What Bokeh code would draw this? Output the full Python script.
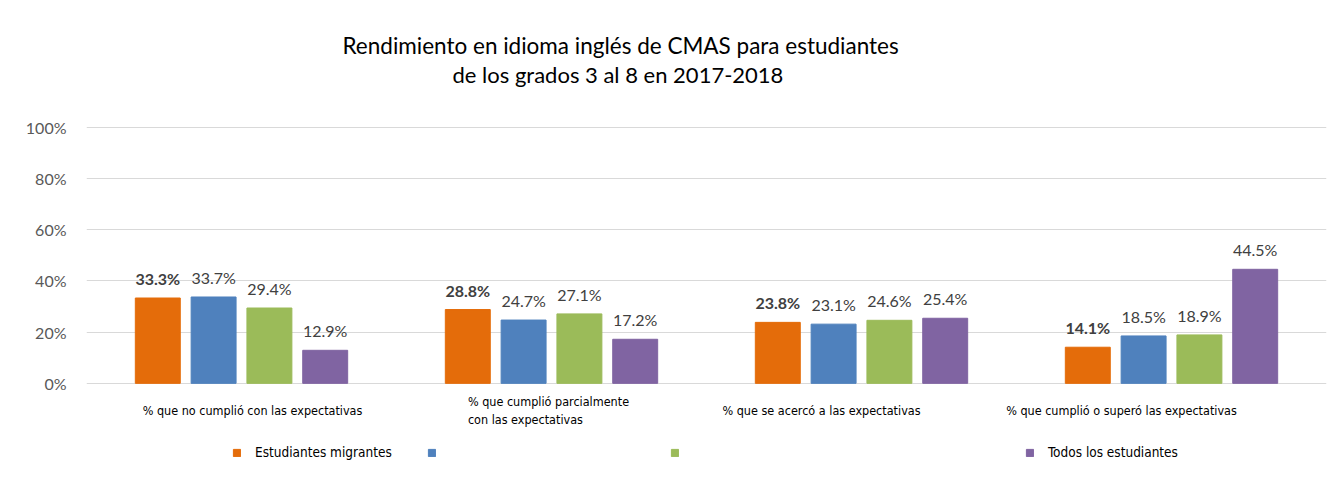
from bokeh.plotting import figure
from bokeh.models import ColumnDataSource, FactorRange, LabelSet, Legend, LegendItem, Range1d, Title
from bokeh.core.properties import value
from bokeh.transform import dodge
from bokeh.embed import file_html
from bokeh.resources import INLINE

categories = ["% que no cumplió con las expectativas",
              "% que cumplió parcialmente\ncon las expectativas",
              "% que se acercó a las expectativas",
              "% que cumplió o superó las expectativas"]
series_names = ["Estudiantes migrantes", "", "", "Todos los estudiantes"]
migrantes = [33.3, 28.8, 23.8, 14.1]
serie2 = [33.7, 24.7, 23.1, 18.5]
serie3 = [29.4, 27.1, 24.6, 18.9]
todos = [12.9, 17.2, 25.4, 44.5]
yticks = [0, 20, 40, 60, 80, 100]
title_lines = ["Rendimiento en idioma inglés de CMAS para estudiantes",
               "de los grados 3 al 8 en 2017-2018"]

# styles
colors = ["#E46C0A", "#4F81BD", "#9BBB59", "#8064A2"]
offsets = [-0.27, -0.09, 0.09, 0.27]
cat_shift = [11, -3, -40, -50]
narrow = "DejaVu Sans Condensed"
series = [migrantes, serie2, serie3, todos]

p = figure(x_range=FactorRange(*categories), y_range=Range1d(-34, 101),
           width=1330, height=470, output_backend="svg", toolbar_location=None,
           title=None,
           min_border_left=86, min_border_right=4, min_border_top=124, min_border_bottom=0)

spacer = Title(text=" ", standoff=34, text_font_size="1px")
t2 = Title(text=title_lines[1], align="left", offset=366, text_font="Lato",
           text_font_size="22px", text_font_style="normal", text_color="#000000", standoff=0)
t1 = Title(text=title_lines[0], align="left", offset=256, text_font="Lato",
           text_font_size="22.5px", text_font_style="normal", text_color="#000000", standoff=0)
p.add_layout(spacer, "above")
p.add_layout(t2, "above")
p.add_layout(t1, "above")

p.outline_line_color = None
p.xgrid.grid_line_color = None
p.ygrid.grid_line_color = "#d9d9d9"
p.ygrid.grid_line_width = 1
p.yaxis.ticker = yticks
p.yaxis.major_label_overrides = {v: f"{v}%" for v in yticks}
p.yaxis.axis_line_color = None
p.yaxis.major_tick_line_color = None
p.yaxis.minor_tick_line_color = None
p.yaxis.major_label_text_font = "Lato"
p.yaxis.major_label_text_font_size = "16px"
p.yaxis.major_label_text_color = "#595959"
p.yaxis.major_label_standoff = 14
p.xaxis.visible = False
p.x_range.range_padding = 0
p.x_range.group_padding = 0

data = {"cat": categories}
keys = ["s0", "s1", "s2", "s3"]
for k, vals in zip(keys, series):
    data[k] = vals
    data[k + "_lab"] = [f"{v:.1f}%" for v in vals]
src = ColumnDataSource(data)

renderers = []
for i, k in enumerate(keys):
    x = dodge("cat", offsets[i], range=p.x_range)
    r = p.vbar(x=x, top=k, width=0.145, source=src, fill_color=colors[i], line_color=colors[i])
    renderers.append(r)
    lab = LabelSet(x=x, y=k, text=k + "_lab", source=src, text_align="center",
                   text_baseline="bottom", y_offset=10, text_font=value("Lato"),
                   text_font_size="16px", text_color="#404040",
                   text_font_style="bold" if i == 0 else "normal")
    p.add_layout(lab)

catsrc = ColumnDataSource({"cat": categories, "y": [0] * len(categories), "dx": cat_shift})
catlab = LabelSet(x="cat", y="y", text="cat", source=catsrc, x_offset="dx", text_align="center",
                  text_baseline="middle", y_offset=-27, text_font=value(narrow),
                  text_font_size="12.5px", text_color="#000000")
p.add_layout(catlab)

leg_x = [146, 341, 584, 939]
for i in range(4):
    leg = Legend(items=[LegendItem(label=series_names[i] if series_names[i] else " ", renderers=[renderers[i]])],
                 location=(leg_x[i], 5), orientation="horizontal",
                 glyph_width=9, glyph_height=9, label_standoff=14, label_height=26,
                 label_text_font=narrow, label_text_font_size="13.5px",
                 label_text_color="#000000", border_line_color=None,
                 background_fill_alpha=0, padding=0, margin=0)
    p.add_layout(leg, "center")

open("out.html", "w").write(file_html(p, INLINE))
